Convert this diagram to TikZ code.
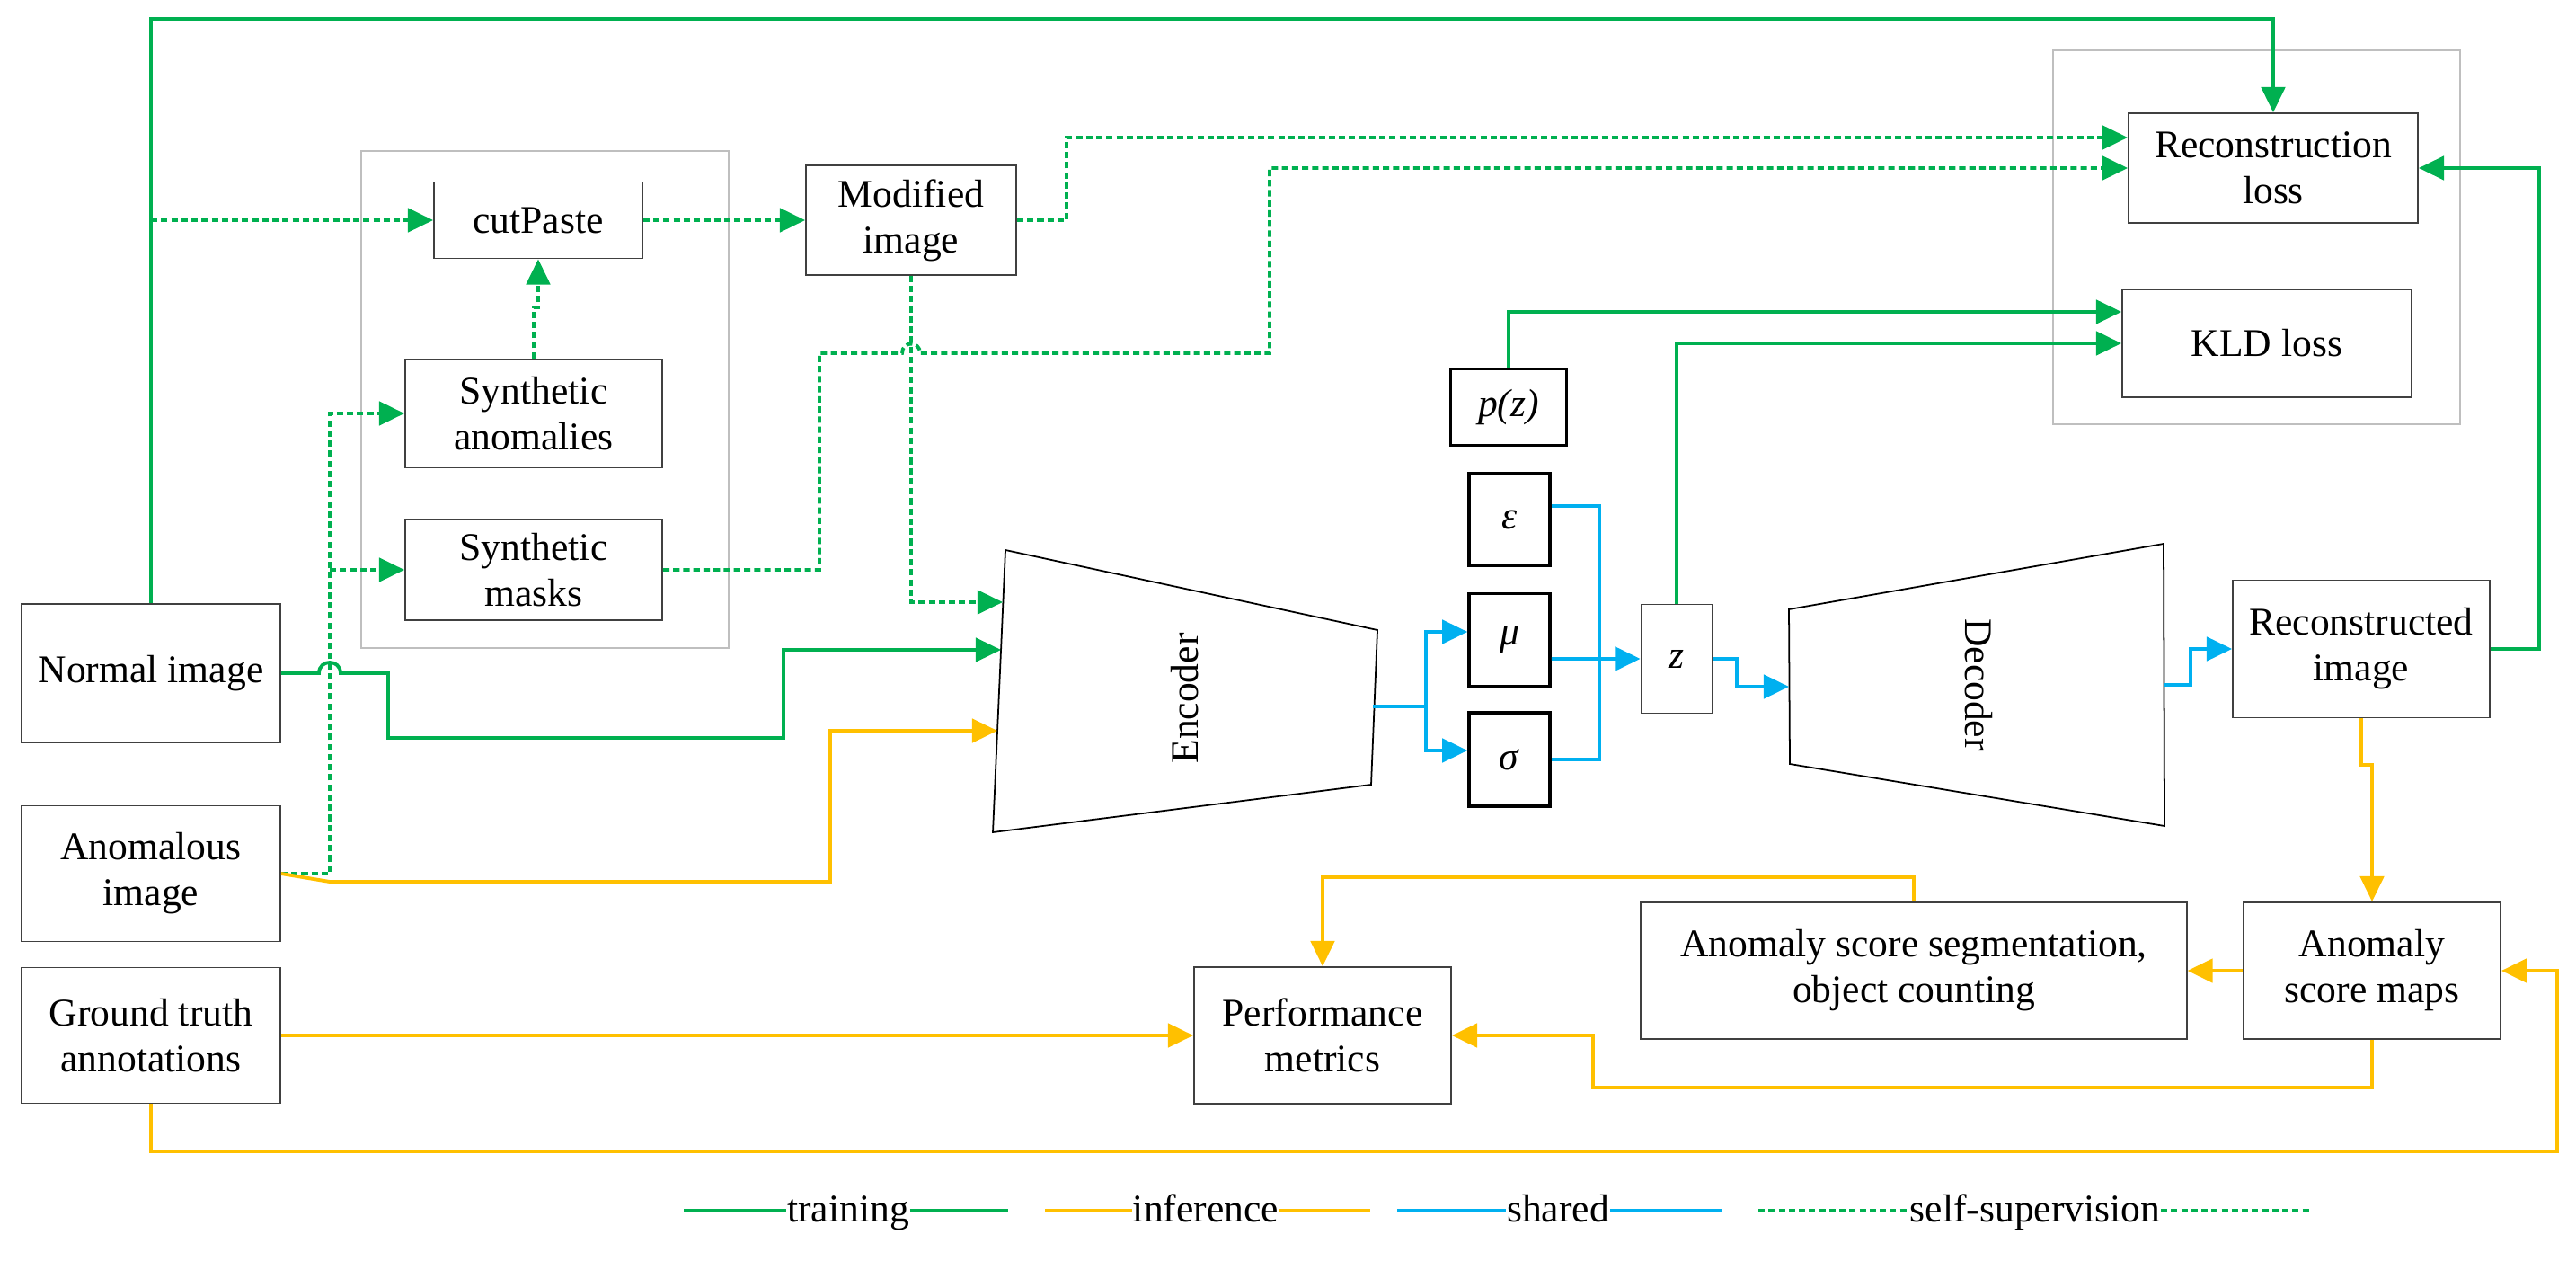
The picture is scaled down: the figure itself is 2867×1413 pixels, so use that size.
\documentclass[tikz,border=0pt]{standalone}
\usepackage{fontspec}
\setmainfont{Liberation Serif}
\usetikzlibrary{arrows.meta}
\definecolor{trainc}{RGB}{0,176,80}
\definecolor{inferc}{RGB}{255,192,0}
\definecolor{sharedc}{RGB}{0,176,240}
\begin{document}
\begin{tikzpicture}[x=0.01cm,y=-0.01cm,
    font=\fontsize{12.4}{14.5}\selectfont,
    >={Triangle[length=8pt,width=7.5pt]},
    box/.style={draw=black!75,line width=0.5pt,align=center,inner sep=1pt},
    thickbox/.style={draw=black,line width=1pt,align=center,inner sep=1pt},
    group/.style={draw=black!25,line width=0.5pt},
    train/.style={draw=trainc,line width=1.1pt},
    infer/.style={draw=inferc,line width=1.1pt},
    shared/.style={draw=sharedc,line width=1.1pt},
    selfsup/.style={draw=trainc,line width=1.1pt,dash pattern=on 2pt off 1.2pt},
    legend/.style={inner sep=0pt,anchor=base}]
  \useasboundingbox (0,0) rectangle (2867,1413);

  \draw[group] (402,168) rectangle (811,721);
  \draw[group] (2285,56) rectangle (2738,472);

  \node[box,minimum width=2.88cm,minimum height=1.54cm] (normal) at (168,749) {Normal image};
  \node[box,minimum width=2.88cm,minimum height=1.51cm] (anom) at (168,972) {Anomalous\\image};
  \node[box,minimum width=2.88cm,minimum height=1.51cm] (gt) at (168,1152) {Ground truth\\annotations};

  \node[box,minimum width=2.32cm,minimum height=0.85cm] (cut) at (599,245) {cutPaste};
  \node[box,minimum width=2.86cm,minimum height=1.21cm] (synano) at (594,460) {Synthetic\\anomalies};
  \node[box,minimum width=2.86cm,minimum height=1.12cm] (synmask) at (594,634) {Synthetic\\masks};
  \node[box,minimum width=2.34cm,minimum height=1.22cm] (mod) at (1014,245) {Modified\\image};

  \node[box,minimum width=3.22cm,minimum height=1.22cm] (recloss) at (2530,187) {Reconstruction\\loss};
  \node[box,minimum width=3.22cm,minimum height=1.20cm] (kld) at (2523,382) {KLD loss};

  \node[thickbox,minimum width=1.29cm,minimum height=0.85cm] (pz) at (1679,453) {\textit{p(z)}};
  \node[thickbox,minimum width=0.90cm,minimum height=1.03cm] (eps) at (1680,578) {\textit{ε}};
  \node[thickbox,minimum width=0.90cm,minimum height=1.03cm] (mu) at (1680,712) {\textit{μ}};
  \node[thickbox,minimum width=0.90cm,minimum height=1.04cm] (sigma) at (1680,845) {\textit{σ}};
  \node[box,minimum width=0.79cm,minimum height=1.21cm] (z) at (1866,733) {\textit{z}};

  % encoder and decoder
  \draw[line width=0.5pt] (1119,612) -- (1533,701) -- (1526,873) -- (1105,926) -- cycle;
  \node[rotate=90] (enc) at (1319,777) {Encoder};
  \draw[line width=0.5pt] (1991,678) -- (2408,605) -- (2409,919) -- (1992,850) -- cycle;
  \node[rotate=-90] (dec) at (2202,762) {Decoder};
  \coordinate (encin1) at (1116,670);
  \coordinate (encin2) at (1114,723);
  \coordinate (encin3) at (1110,813);
  \coordinate (encout) at (1528,786);
  \coordinate (decin) at (1991,764);
  \coordinate (decout) at (2409,762);

  \node[box,minimum width=2.86cm,minimum height=1.53cm] (recimg) at (2628,722) {Reconstructed\\image};
  \node[box,minimum width=6.07cm,minimum height=1.52cm] (seg) at (2130,1080) {Anomaly score segmentation,\\object counting};
  \node[box,minimum width=2.86cm,minimum height=1.52cm] (maps) at (2640,1080) {Anomaly\\score maps};
  \node[box,minimum width=2.86cm,minimum height=1.52cm] (perf) at (1472,1152) {Performance\\metrics};

  % training
  \draw[train,->] (normal.north) |- (1000,21) -| (recloss.north);
  \draw[train,->] (normal.east) -- (355,749) .. controls (355,733) and (379,733) .. (379,749)
    -| (432,821) -| (872,723) -- (encin2);
  \draw[train,->] (pz.north) |- ([yshift=0.35cm]kld.west);
  \draw[train,->] (z.north) |- (kld.west);
  \draw[train,->] (recimg.east) -- ++(54,0) |- (recloss.east);

  % self-supervision
  \coordinate (split) at (168,245);
  \coordinate (fork) at (367,634);
  \draw[selfsup,->] (split) -- (cut.west);
  \draw[selfsup,->] (synano.north) -- ++(0,-57) -| (cut.south);
  \draw[selfsup,->] (cut.east) -- (mod.west);
  \draw[selfsup,->] (mod.east) -- ++(55,0) |- ([yshift=0.34cm]recloss.west);
  \draw[selfsup,->] (synmask.east) -| (912,393) -- (1004,393) .. controls (1004,379) and (1024,379) .. (1024,393)
    -| (1413,187) -- (recloss.west);
  \draw[selfsup,->] (mod.south) |- (encin1);
  \draw[selfsup,->] (anom.east) -| (fork) |- (synano.west);
  \draw[selfsup,->] (fork) -- (synmask.west);

  % inference
  \draw[infer,->] (anom.east) -- (367,981) -| (924,813) -- (encin3);
  \draw[infer,->] (gt.east) -- (perf.west);
  \draw[infer,->] (gt.south) |- (2846,1281) |- (maps.east);
  \draw[infer,->] (recimg.south) -- ++(0,52) -| (maps.north);
  \draw[infer,->] (maps.west) -- (seg.east);
  \draw[infer,->] (seg.north) -- ++(0,-27) -| (perf.north);
  \draw[infer,->] (maps.south) |- (1773,1210) |- (perf.east);

  % shared
  \coordinate (encsplit) at (1587,786);
  \draw[shared] (encout) -- (encsplit);
  \draw[shared,->] (encsplit) |- ([yshift=0.09cm]mu.west);
  \draw[shared,->] (encsplit) |- ([yshift=0.1cm]sigma.west);
  \draw[shared] ([yshift=0.15cm]eps.east) -- ++(53,0) |- (sigma.east);
  \draw[shared,->] ([yshift=-0.21cm]mu.east) -- (z.west);
  \draw[shared,->] (z.east) -- ++(27,0) |- (decin);
  \draw[shared,->] (decout) -- ++(29,0) |- (recimg.west);

  % legend
  \node[legend] (ltrain) at (944,1359) {training};
  \node[legend] (linfer) at (1342,1359) {inference};
  \node[legend] (lshared) at (1734,1359) {shared};
  \node[legend] (lself) at (2265,1359) {self-supervision};
  \draw[train] (761,1347) -- (ltrain.west |- 0,1347) (ltrain.east |- 0,1347) -- (1122,1347);
  \draw[infer] (1163,1347) -- (linfer.west |- 0,1347) (linfer.east |- 0,1347) -- (1525,1347);
  \draw[shared] (1555,1347) -- (lshared.west |- 0,1347) (lshared.east |- 0,1347) -- (1916,1347);
  \draw[selfsup] (1957,1347) -- (lself.west |- 0,1347) (lself.east |- 0,1347) -- (2572,1347);
\end{tikzpicture}
\end{document}
